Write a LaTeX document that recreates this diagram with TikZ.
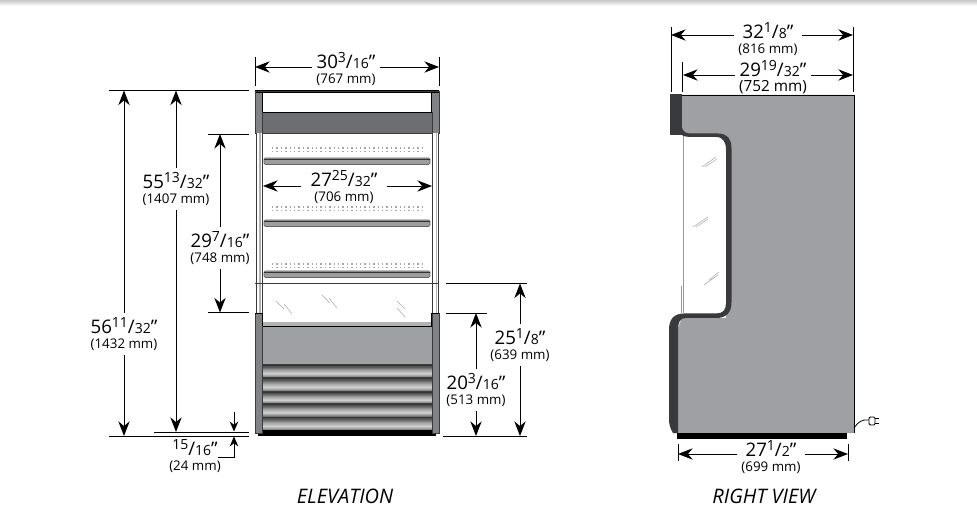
\documentclass[tikz,border=0pt]{standalone}
\usepackage{fontspec}
\setmainfont{Open Sans}
\usetikzlibrary{arrows.meta}
\definecolor{panelgray}{HTML}{9FA0A3}
\definecolor{sidegray}{HTML}{808285}
\definecolor{bandgray}{HTML}{6D6E71}
\definecolor{trimdark}{HTML}{3A3A3C}
\pgfdeclareverticalshading{louvershade}{100bp}{color(0bp)=(black!30); color(25bp)=(black!30); color(29bp)=(black!55); color(42bp)=(black!18); color(55bp)=(black!35); color(68bp)=(black!65); color(75bp)=(black!72); color(100bp)=(black!72)}
\pgfdeclareverticalshading{topfade}{100bp}{color(0bp)=(white); color(25bp)=(white); color(75bp)=(black!22); color(100bp)=(black!22)}
\newcommand{\mmsize}{10}
\newcommand{\dimtext}[4]{{\fontsize{14}{14}\selectfont #1\raisebox{.34em}{\fontsize{10.5}{10.5}\selectfont #2}/{\fontsize{10.5}{10.5}\selectfont #3}\symbol{34}}\\[-.5pt]{\fontsize{\mmsize}{12}\selectfont (#4 mm)}}
\tikzset{
  dimlabel/.style={align=center, inner sep=0pt, outer sep=3pt, text=black},
  dimarrow/.style={draw=black, line width=.7pt, -{Stealth[length=11pt,width=8.5pt]}},
  smallarrow/.style={draw=black, line width=.7pt, -{Stealth[length=7.5pt,width=6.5pt]}},
  extline/.style={draw=black, line width=.55pt},
  caption/.style={inner sep=0pt, font=\fontsize{15}{18}\selectfont\itshape},
  scratch/.style={draw=gray!70, line width=.4pt}
}
\begin{document}
\begin{tikzpicture}[x=.75pt, y=-.75pt]
  \useasboundingbox (0,0) rectangle (977,523);
  \shade[shading=topfade] (0,0) rectangle (977,6);

  % elevation: upper part
  \fill[sidegray] (255,91) rectangle (439,133);
  \fill[bandgray] (262,112) rectangle (432,133);
  \fill[white] (262,92) rectangle (432,112);
  \draw[black, line width=1.6pt] (255,91.5) -- (439,91.5);
  \draw[black, line width=1.4pt] (262.5,92) -- (262.5,112.5) -- (431.5,112.5) -- (431.5,92);
  \draw[trimdark, line width=.5pt] (255,91) rectangle (439,133);
  \draw[trimdark, line width=.5pt] (262,112) -- (262,133) (432,112) -- (432,133);
  % posts
  \foreach \x in {256,432.5} {
    \fill[white] (\x,133) rectangle ++(6,180);
    \fill[black!30] (\x+3.4,133) rectangle ++(1.4,180);
    \draw[trimdark, line width=.5pt] (\x,133) -- ++(0,180) (\x+6,133) -- ++(0,180);
  }
  % shelves
  \foreach \y in {148,207,264} {
    \draw[gray!70, line width=.9pt, dash pattern=on 1.1pt off 2.2pt] (272,\y) -- (423,\y);
    \draw[gray!70, line width=.9pt, dash pattern=on 1.1pt off 2.2pt] (272,\y+3.5) -- (423,\y+3.5);
  }
  \foreach \y in {158,220,271} {
    \draw[black!60, fill=black!38, line width=.5pt, rounded corners=1pt] (264,\y) rectangle (430,\y+6.5);
    \draw[black!80, line width=.5pt] (264,\y+1.2) -- (430,\y+1.2);
  }
  \draw[trimdark, line width=.7pt] (255,283) -- (439,283);
  % glass
  \draw[scratch] (276,301) -- (284,309) (284,304) -- (292,314);
  \draw[scratch] (322,295) -- (330,303) (329,298) -- (337,308);
  \draw[scratch] (397,301) -- (405,309) (397,308) -- (405,317);

  % elevation: lower part
  \fill[black] (258,431) rectangle (436,436);
  \fill[black!30] (262,322) rectangle (432,326);
  \fill[panelgray] (262,326) rectangle (432,365);
  \draw[black, line width=.6pt] (262,326) -- (432,326);
  \foreach \y/\h in {365/13,378/14,392/12,404/13,417/14} {
    \shade[shading=louvershade] (262,\y) rectangle (432,\y+\h);
    \draw[black!80, line width=.6pt] (262,\y) -- (432,\y);
  }
  \draw[black, line width=.8pt] (262,431) -- (432,431);
  \foreach \x in {255,432} {
    \fill[sidegray] (\x,313) rectangle ++(7,120);
    \draw[trimdark, line width=.5pt] (\x,313) rectangle ++(7,120);
  }
  \draw[black, line width=1.2pt] (255,313.5) -- (262.5,313.5) -- (262.5,326);
  \draw[black, line width=1.2pt] (439,313.5) -- (431.5,313.5) -- (431.5,326);

  % right view
  \fill[panelgray] (682,95) -- (854,95) -- (854,433) -- (673,433) -- (673,340) -- (682,318) -- (726,318) -- (726,135) -- (682,135) -- cycle;
  \draw[black, line width=.6pt] (682,95) -- (854,95) -- (854,433);
  \fill[black] (677,433) rectangle (847,439);
  \draw[black!40, line width=.7pt] (683.5,135) -- (683.5,313);
  \draw[black!40, line width=.5pt] (681.5,286) -- (681.5,313);
  \fill[trimdark] (670,94) rectangle (682,135);
  \fill[trimdark] (682,128) .. controls (684,133) and (687,133.5) .. (692,133.5)
    -- (718,133.5) .. controls (728,133.5) and (731.5,140) .. (731.5,148)
    -- (731.5,302) .. controls (731.5,313) and (726,318) .. (716,318)
    -- (686,318) .. controls (680,318) and (678,322) .. (678,330)
    -- (678,433) -- (673,433) .. controls (670,428) and (669,425) .. (669,418)
    -- (669,330) .. controls (669,319) and (674,313.5) .. (684,313.5)
    -- (716,313.5) .. controls (723,313.5) and (726,310) .. (726,303)
    -- (726,150) .. controls (726,142) and (723,137) .. (716,137)
    -- (692,137) .. controls (686,137) and (683,136) .. (682,135) -- cycle;
  \draw[scratch] (702,167) -- (716,157) (705,167) -- (717,159);
  \draw[scratch] (693,227) -- (708,217) (696,227) -- (708,219);
  \draw[scratch] (704,285) -- (718,275) (709,280) -- (719,272);
  % cord and plug
  \draw[black, line width=.6pt] (854,428) .. controls (858,422) and (862,419) .. (869,420);
  \draw[black, fill=white, line width=.7pt, rounded corners=1pt] (869,417) rectangle (875,425);
  \draw[black, line width=.7pt] (875,418.5) -- (879,418.5) (875,423.5) -- (879,423.5);

  % elevation: top and inner widths
  \node[dimlabel] (elevW) at (346,69) {\dimtext{30}{3}{16}{767}};
  \coordinate (elevWL) at (255,67);
  \coordinate (elevWR) at (439,67);
  \draw[extline] (255,57) -- (255,86) (439,57) -- (439,86);
  \draw[dimarrow] (elevW.west |- elevWL) -- (elevWL);
  \draw[dimarrow] (elevW.east |- elevWR) -- (elevWR);

  \node[dimlabel, outer sep=7pt] (innerW) at (344,187) {\dimtext{27}{25}{32}{706}};
  \coordinate (innerWL) at (263,186);
  \coordinate (innerWR) at (432,186);
  \draw[dimarrow] (innerW.west |- innerWL) -- (innerWL);
  \draw[dimarrow] (innerW.east |- innerWR) -- (innerWR);

  % elevation: left heights
  \coordinate (topA) at (109,90.5);
  \coordinate (topB) at (249,90.5);
  \coordinate (botA) at (109,436);
  \coordinate (botB) at (249,436);
  \coordinate (feetA) at (154,432);
  \coordinate (feetB) at (249,432);
  \coordinate (bandA) at (208,134);
  \coordinate (bandB) at (249,134);
  \coordinate (sillA) at (208,312.5);
  \coordinate (sillB) at (249,312.5);
  \draw[extline] (topA) -- (topB);
  \draw[extline] (botA) -- (botB);
  \draw[extline] (feetA) -- (feetB);
  \draw[extline] (bandA) -- (bandB);
  \draw[extline] (sillA) -- (sillB);

  \node[dimlabel] (heightAll) at (124,334) {\dimtext{56}{11}{32}{1432}};
  \draw[dimarrow] (heightAll.north) -- (heightAll.north |- topA);
  \draw[dimarrow] (heightAll.south) -- (heightAll.south |- botA);

  \node[dimlabel] (heightBody) at (176,189) {\dimtext{55}{13}{32}{1407}};
  \draw[dimarrow] (heightBody.north) -- (heightBody.north |- topA);
  \draw[dimarrow] (heightBody.south) -- (heightBody.south |- feetA);

  \node[dimlabel] (heightOpen) at (220,248) {\dimtext{29}{7}{16}{748}};
  \draw[dimarrow] (heightOpen.north) -- (heightOpen.north |- bandA);
  \draw[dimarrow] (heightOpen.south) -- (heightOpen.south |- sillA);

  % foot clearance
  \node[dimlabel] (footH) at (195,456) {\dimtext{}{15}{16}{24}};
  \coordinate (footTop) at (234,412);
  \coordinate (footTopEnd) at (234,431.5);
  \coordinate (footElbow) at (218,457);
  \coordinate (footBotEnd) at (234,436.5);
  \draw[smallarrow] (footTop) -- (footTopEnd);
  \draw[smallarrow] (footElbow) -| (footBotEnd);

  % elevation: right heights
  \coordinate (glassA) at (446,283.5);
  \coordinate (glassB) at (527,283.5);
  \coordinate (sideA) at (446,313);
  \coordinate (sideB) at (487,313);
  \coordinate (baseA) at (443,436);
  \coordinate (baseB) at (527,436);
  \draw[extline] (glassA) -- (glassB);
  \draw[extline] (sideA) -- (sideB);
  \draw[extline] (baseA) -- (baseB);

  \node[dimlabel] (heightGlass) at (520,345) {\dimtext{25}{1}{8}{639}};
  \draw[dimarrow] (heightGlass.north) -- (heightGlass.north |- glassA);
  \draw[dimarrow] (heightGlass.south) -- (heightGlass.south |- baseA);

  \node[dimlabel] (heightSide) at (476,390) {\dimtext{20}{3}{16}{513}};
  \draw[dimarrow] (heightSide.north) -- (heightSide.north |- sideA);
  \draw[dimarrow] (heightSide.south) -- (heightSide.south |- baseA);

  % right view dimensions
  \node[dimlabel] (depthAll) at (768,39) {\dimtext{32}{1}{8}{816}};
  \coordinate (depthAllL) at (671,35);
  \coordinate (depthAllR) at (853,35);
  \draw[extline] (671,27) -- (671,92) (853,27) -- (853,92);
  \draw[dimarrow] (depthAll.west |- depthAllL) -- (depthAllL);
  \draw[dimarrow] (depthAll.east |- depthAllR) -- (depthAllR);

  \renewcommand{\mmsize}{11.5}
  \node[dimlabel] (depthBody) at (773,77) {\dimtext{29}{19}{32}{752}};
  \renewcommand{\mmsize}{10}
  \coordinate (depthBodyL) at (683,75);
  \coordinate (depthBodyR) at (853,75);
  \draw[extline] (682.5,62) -- (682.5,92);
  \draw[dimarrow] (depthBody.west |- depthBodyL) -- (depthBodyL);
  \draw[dimarrow] (depthBody.east |- depthBodyR) -- (depthBodyR);

  \node[dimlabel] (depthBase) at (771,457) {\dimtext{27}{1}{2}{699}};
  \coordinate (depthBaseL) at (678,454);
  \coordinate (depthBaseR) at (848,454);
  \draw[extline] (678,444) -- (678,461) (848,444) -- (848,461);
  \draw[dimarrow] (depthBase.west |- depthBaseL) -- (depthBaseL);
  \draw[dimarrow] (depthBase.east |- depthBaseR) -- (depthBaseR);

  % captions
  \node[caption] (elevCap) at (345,496) {ELEVATION};
  \node[caption] (sideCap) at (764,496) {RIGHT VIEW};
\end{tikzpicture}
\end{document}
